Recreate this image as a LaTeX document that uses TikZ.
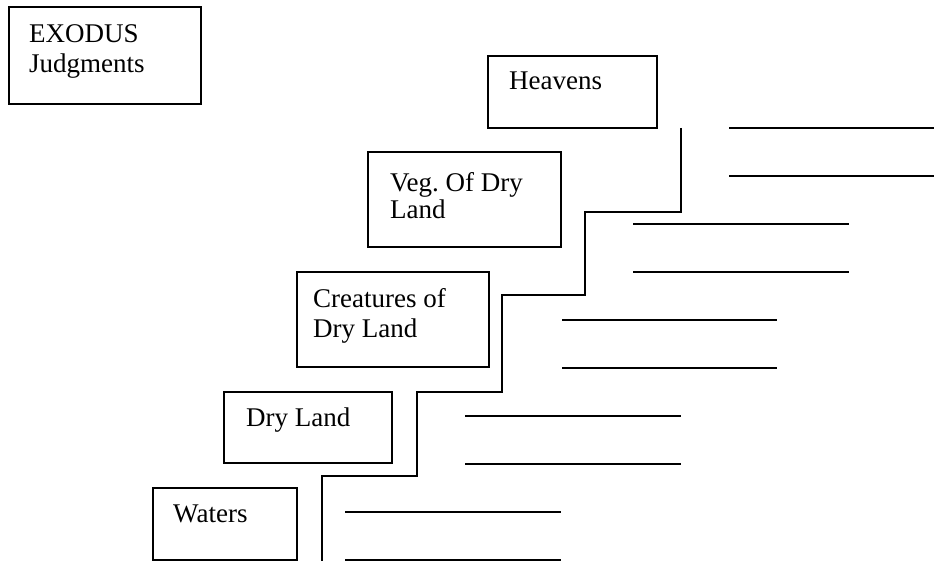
\documentclass[tikz,border=0pt]{standalone}
\usepackage{fontspec}
\setmainfont{Liberation Serif}
\frenchspacing
\begin{document}
\begin{tikzpicture}[x=1pt,y=-1pt,
  boxst/.style={draw=black,line width=2pt,rectangle,inner sep=0pt},
  txt/.style={anchor=base west,inner sep=0pt,font=\rmfamily\fontsize{27}{30}\selectfont},
  rule/.style={draw=black,line width=2pt},
  stair/.style={draw=black,line width=2pt}]
\useasboundingbox (0,0) rectangle (934,561);
% boxes
\node[boxst,minimum width=192pt,minimum height=97pt] (exodus) at (105,55.5) {};
\node[boxst,minimum width=169pt,minimum height=72pt] (heavens) at (572.5,92) {};
\node[boxst,minimum width=193pt,minimum height=95pt] (veg) at (464.5,199.5) {};
\node[boxst,minimum width=192pt,minimum height=95pt] (creat) at (393,319.5) {};
\node[boxst,minimum width=168pt,minimum height=71pt] (dry) at (308,427.5) {};
\node[boxst,minimum width=144pt,minimum height=72pt] (waters) at (225,524) {};
% texts
\node[txt] (t1) at (29,43) {EXODUS};
\node[txt] (t2) at (29,73) {Judgments};
\node[txt] (t3) at (509,90) {Heavens};
\node[txt] (t4) at (390,192) {Veg.\ Of Dry};
\node[txt] (t5) at (390,219) {Land};
\node[txt] (t6) at (313,308) {Creatures of};
\node[txt] (t7) at (313,337) {Dry Land};
\node[txt] (t8) at (246,426) {Dry Land};
\node[txt] (t9) at (173,522) {Waters};
% staircase
\coordinate (s0) at (681,128);
\coordinate (s1) at (681,212);
\coordinate (s2) at (585,212);
\coordinate (s3) at (585,295);
\coordinate (s4) at (502,295);
\coordinate (s5) at (502,392);
\coordinate (s6) at (417,392);
\coordinate (s7) at (417,476);
\coordinate (s8) at (322,476);
\coordinate (s9) at (322,561);
\draw[stair] (s0) -- (s1) -- (s2) -- (s3) -- (s4) -- (s5) -- (s6) -- (s7) -- (s8) -- (s9);
% blank lines
\coordinate (a1) at (729,128); \coordinate (b1) at (934,128);
\coordinate (a2) at (729,176); \coordinate (b2) at (934,176);
\coordinate (a3) at (633,224); \coordinate (b3) at (849,224);
\coordinate (a4) at (633,272); \coordinate (b4) at (849,272);
\coordinate (a5) at (562,320); \coordinate (b5) at (777,320);
\coordinate (a6) at (562,368); \coordinate (b6) at (777,368);
\coordinate (a7) at (465,416); \coordinate (b7) at (681,416);
\coordinate (a8) at (465,464); \coordinate (b8) at (681,464);
\coordinate (a9) at (345,512); \coordinate (b9) at (561,512);
\coordinate (a10) at (345,560); \coordinate (b10) at (561,560);
\foreach \i in {1,...,10} {\draw[rule] (a\i) -- (b\i);}
\end{tikzpicture}
\end{document}
